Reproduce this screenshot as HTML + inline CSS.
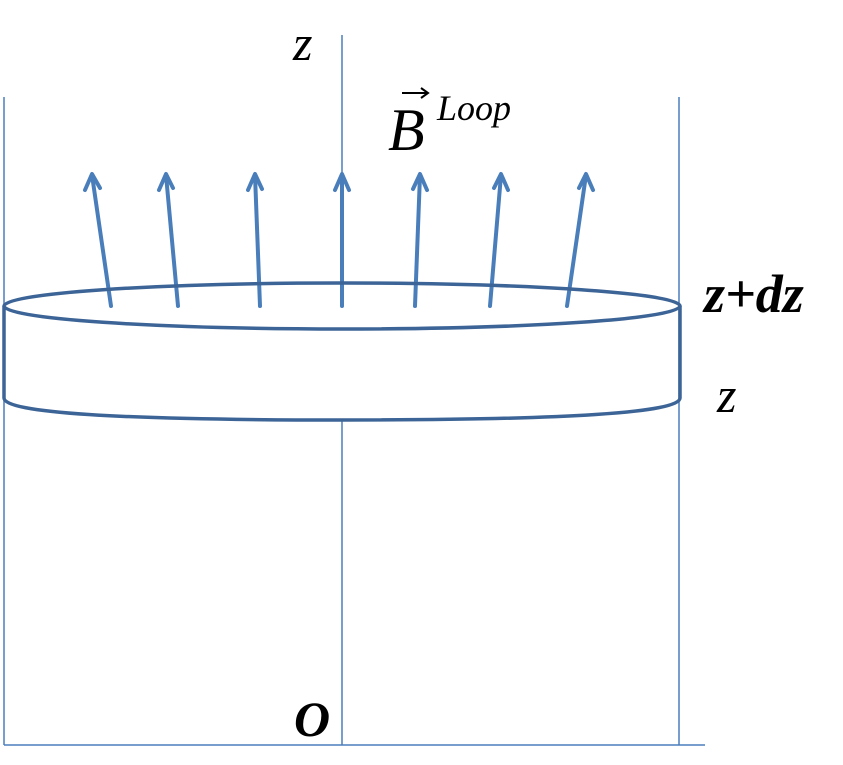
<!DOCTYPE html>
<html><head><style>body{margin:0;background:#fff}</style></head><body>
<svg width="843" height="760" xmlns="http://www.w3.org/2000/svg" font-family="Liberation Serif, serif">
<g stroke="#4a7ebb" stroke-width="1.5" fill="none">
<line x1="342" y1="35" x2="342" y2="175"/>
<line x1="342" y1="420" x2="342" y2="745"/>
<line x1="4" y1="97" x2="4" y2="745"/>
<line x1="679" y1="97" x2="679" y2="745"/>
<line x1="4" y1="745" x2="705" y2="745"/>
</g>
<g stroke="#4a7ebb" stroke-width="4" fill="none" stroke-linecap="round" stroke-linejoin="round">
<line x1="111" y1="306" x2="92" y2="175"/><polyline points="85,190 92,174 100,188"/>
<line x1="178" y1="306" x2="166" y2="175"/><polyline points="159,190 166,174 173,188"/>
<line x1="260" y1="306" x2="255" y2="175"/><polyline points="248,190 255,174 262,189"/>
<line x1="342" y1="306" x2="342" y2="175"/><polyline points="335,190 342,174 349,190"/>
<line x1="415" y1="306" x2="420" y2="175"/><polyline points="413,189 420,174 427,190"/>
<line x1="490" y1="306" x2="501" y2="175"/><polyline points="494,188 501,174 508,190"/>
<line x1="567" y1="306" x2="586" y2="175"/><polyline points="579,188 586,174 593,190"/>
</g>
<g stroke="#3c6496" stroke-width="3.5" fill="none">
<ellipse cx="342" cy="306" rx="338" ry="23"/>
<line x1="4" y1="306" x2="4" y2="398"/>
<line x1="680" y1="306" x2="680" y2="398"/>
<path d="M4,398 Q4,420 342,420 Q680,420 680,398"/>
</g>
<text x="293" y="60" font-size="50" font-style="italic">z</text>
<text x="388" y="150" font-size="60" font-style="italic">B</text>
<line x1="402" y1="93" x2="427" y2="93" stroke="#000" stroke-width="2"/>
<polyline points="421,88 428,93 421,98" fill="none" stroke="#000" stroke-width="2"/>
<text x="437" y="120" font-size="36" font-style="italic">Loop</text>
<text x="704" y="312" font-size="54" font-style="italic" font-weight="bold">z+dz</text>
<text x="717" y="412" font-size="50" font-style="italic">z</text>
<text x="294" y="736" font-size="50" font-style="italic" font-weight="bold">O</text>
</svg>
</body></html>
